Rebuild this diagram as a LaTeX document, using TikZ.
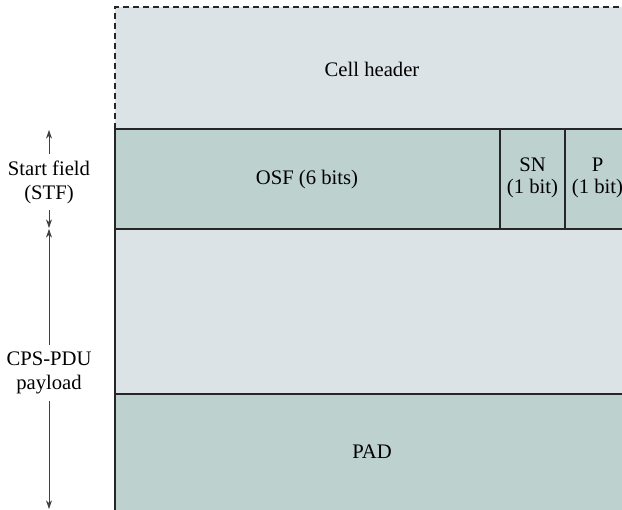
\documentclass[tikz,border=0pt]{standalone}
\usepackage{fontspec}
\setmainfont{Liberation Serif}
\usetikzlibrary{arrows.meta}
\definecolor{hdrfill}{RGB}{220,227,230}
\definecolor{fldfill}{RGB}{189,209,207}

\begin{document}
\begin{tikzpicture}[x=0.75pt,y=-0.75pt,line join=miter,
    field/.style={draw=black!85,line width=0.9pt},
    lbl/.style={font=\fontsize{15.5}{17}\selectfont,align=center,inner sep=0pt},
    side/.style={font=\fontsize{15.5}{18}\selectfont,align=center,inner xsep=0pt,inner ysep=5pt},
    dim/.style={draw=black!75,line width=0.6pt,-{Stealth[length=6.5pt,width=4.5pt]}}]
	\useasboundingbox (0,0) rectangle (622,510);
	\clip (0,0) rectangle (622,510);
	% cell header (dashed, not part of the PDU)
	\fill[hdrfill] (115,7) rectangle (630,129);
	\draw[dash pattern=on 4.5pt off 3pt,line width=0.85pt,draw=black!85] (115,129) -- (115,7) -- (630,7);
	\node[lbl] (hdr) at (372,69) {Cell header};
	% start field
	\draw[field,fill=fldfill] (115,129) rectangle (500,229);
	\draw[field,fill=fldfill] (500,129) rectangle (565,229);
	\draw[field,fill=fldfill] (565,129) rectangle (630,229);
	\node[lbl] (osf) at (307,180) {OSF (6 bits)};
	\node[lbl] (sn) at (532.5,178) {SN\\(1 bit)};
	\node[lbl] (p) at (597.5,178) {P\\(1 bit)};
	% payload
	\draw[field,fill=hdrfill] (115,229) rectangle (630,394);
	\draw[field,fill=fldfill] (115,394) rectangle (630,520);
	\node[lbl] (pad) at (372,452) {PAD};
	% dimension arrows
	\coordinate (stftop) at (49,130);
	\coordinate (stfbot) at (49,228);
	\coordinate (paytop) at (49,229);
	\coordinate (paybot) at (49,509);
	\node[side] (stf) at (49,182) {Start field\\(STF)};
	\node[side] (pay) at (49,373) {CPS-PDU\\payload};
	\draw[dim] (stf) -- (stftop);
	\draw[dim] (stf) -- (stfbot);
	\draw[dim] (pay) -- (paytop);
	\draw[dim] (pay) -- (paybot);
\end{tikzpicture}
\end{document}
